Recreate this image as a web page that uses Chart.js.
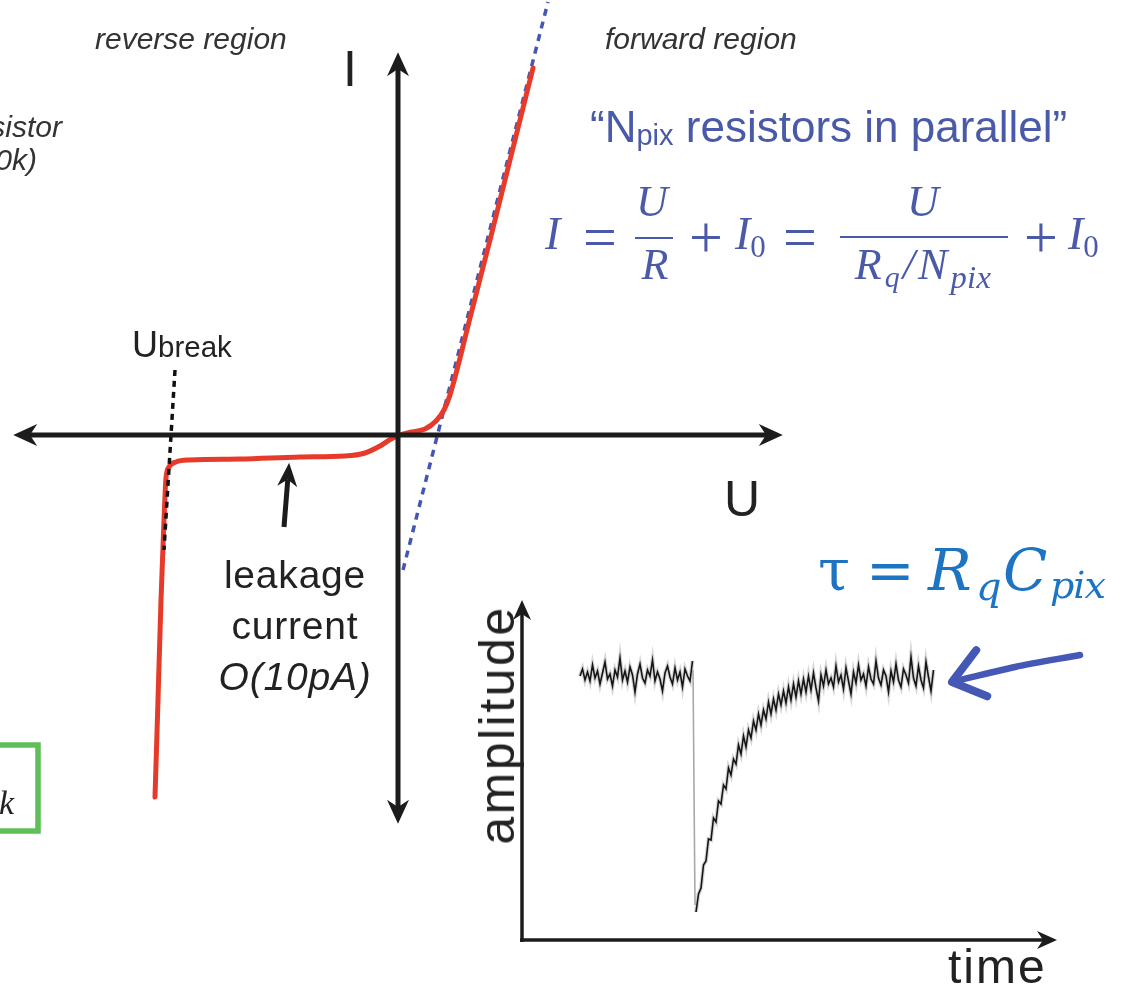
<!DOCTYPE html>
<html>
<head>
<meta charset="utf-8">
<script src="https://cdn.jsdelivr.net/npm/chart.js@4.4.1/dist/chart.umd.min.js"></script>
<style>
  body { margin: 0; background: #fff; }
  #wrap { position: relative; width: 1127px; height: 989px; overflow: hidden; background: #fff; }
  canvas { position: absolute; }
  .t { position: absolute; white-space: nowrap; line-height: 1; font-family: "Liberation Sans", Arial, sans-serif; color: #222; }
  .it { font-style: italic; }
  .grey { color: #333; }
  .blue { color: #4a5aa8; }
  .m { font-family: "Liberation Serif", serif; font-style: italic; font-size: 44px; }
  .up { font-style: normal; }
  .c { transform: translateX(-50%); }
  .op { font-style: normal; font-size: 60px; top: 207px; transform: translateX(-50%); }
  .bar { position: absolute; height: 2px; background: #4a5aa8; }
  .sub { font-size: 0.68em; position: relative; top: 0.28em; }
  .tau { font-family: "DejaVu Serif", serif; font-style: italic; color: #1d74c3; }
</style>
</head>
<body>
<div id="wrap">
  <canvas id="main" width="1127" height="989" style="left:0;top:0"></canvas>
  <canvas id="inset" width="640" height="399" style="left:470px;top:590px"></canvas>

  <div class="t it grey" style="left:95px;top:24px;font-size:30px">reverse region</div>
  <div class="t it grey" style="left:605px;top:24px;font-size:30px">forward region</div>
  <div class="t it grey" style="right:1065px;top:112px;font-size:30px">sistor</div>
  <div class="t it grey" style="right:1090px;top:145px;font-size:30px">0k)</div>
  <div class="t m" style="left:-1px;top:786px;font-size:34px;color:#222">k</div>

  <div class="t" style="left:343px;top:44px;font-size:50px">I</div>
  <div class="t" style="left:724px;top:474px;font-size:50px">U</div>
  <div class="t" style="left:132px;top:327px;font-size:36px">U<span style="font-size:29.5px">break</span></div>

  <div class="t c" style="left:295px;top:555px;font-size:39px;letter-spacing:0.8px">leakage</div>
  <div class="t c" style="left:295px;top:606px;font-size:39px;letter-spacing:0.8px">current</div>
  <div class="t it c" style="left:295px;top:657px;font-size:39px;letter-spacing:0.8px">O(10pA)</div>

  <div class="t blue" style="left:590px;top:105px;font-size:44px">&ldquo;N<span style="font-size:0.66em;position:relative;top:0.12em">pix</span> resistors in parallel&rdquo;</div>

  <!-- I = U/R + I0 = U/(Rq/Npix) + I0 -->
  <div class="t m blue" style="left:545px;top:211px;font-size:46px">I</div>
  <div class="t m blue op" style="left:600px">=</div>
  <div class="t m blue c" style="left:652px;top:180px">U</div>
  <div class="bar" style="left:635px;top:237px;width:38px"></div>
  <div class="t m blue c" style="left:655px;top:243px">R</div>
  <div class="t m blue op" style="left:706px">+</div>
  <div class="t m blue" style="left:735px;top:211px;font-size:46px">I<span class="up" style="font-size:31px;position:relative;top:8px">0</span></div>
  <div class="t m blue op" style="left:800px">=</div>
  <div class="t m blue c" style="left:923px;top:180px">U</div>
  <div class="bar" style="left:840px;top:236px;width:168px"></div>
  <div class="t m blue c" style="left:923px;top:243px;letter-spacing:0.07em">R<span class="sub">q</span>/N<span class="sub" style="font-size:0.74em;letter-spacing:0.01em">pix</span></div>
  <div class="t m blue op" style="left:1041px">+</div>
  <div class="t m blue" style="left:1068px;top:211px;font-size:46px">I<span class="up" style="font-size:31px;position:relative;top:8px">0</span></div>

  <!-- tau = Rq Cpix -->
  <div class="t tau" style="left:818px;top:541px;font-size:58px;font-style:normal">&tau;</div>
  <div class="t tau" style="left:866px;top:541px;font-size:58px;font-style:normal">=</div>
  <div class="t tau" style="left:928px;top:541px;font-size:58px">R</div>
  <div class="t tau" style="left:976px;top:566px;font-size:40px">q</div>
  <div class="t tau" style="left:1003px;top:541px;font-size:58px">C</div>
  <div class="t tau" style="left:1050px;top:566px;font-size:38px;letter-spacing:-1px">pix</div>

  <div class="t" style="left:497px;top:725px;font-size:50px;letter-spacing:2.5px;transform:translate(-50%,-50%) rotate(-90deg)">amplitude</div>
  <div class="t" style="left:948px;top:943px;font-size:48px;letter-spacing:2px">time</div>
</div>

<script>
// ---- I-U characteristic (units: U right, I up; origin where the axes cross) ----
const curveU = [-6.075, -6.0, -5.925, -5.85, -5.8, -5.725, -5.55, -5.2, -3.95, -2.45, -1.325, -0.825, -0.45, -0.175, 0.05, 0.35, 0.675, 0.95, 1.15, 1.3, 1.8, 2.3, 2.8, 3.375];
const curveI = [-9.05, -6.625, -4.125, -2.125, -1.075, -0.8, -0.675, -0.625, -0.6, -0.55, -0.525, -0.45, -0.275, -0.1, 0.0, 0.075, 0.15, 0.35, 0.625, 1.0, 2.925, 4.875, 6.875, 9.175];

// linear extrapolation "N_pix resistors in parallel"
const fitU = [0.125, 3.75];
const fitI = [-3.375, 10.825];

// breakdown voltage marker
const breakU = [-5.575, -5.85];
const breakI = [1.625, -2.875];

// leakage current pointer
const leakU = [-2.85, -2.755];
const leakI = [-2.3, -1.11];

// axes
const axisUx = [-9.2, 9.2], axisUy = [0, 0];
const axisIx = [0, 0], axisIy = [-9.3, 9.15];

// green box edge at the left
const boxU = [-10.3, -9.0, -9.0, -10.3];
const boxI = [-7.75, -7.75, -9.9, -9.9];

// ---- pulse inset (time, amplitude) ----
const preStart = 5.8, postStart = 17.4, step = 0.25;
const preAmp = [26.4, 27.1, 26.0, 26.8, 25.9, 27.5, 26.2, 26.9, 25.6, 26.7, 27.8, 26.1, 26.6, 25.4, 27.0, 26.3,
  28.2, 26.0, 26.9, 25.8, 27.3, 26.5, 24.8, 26.6, 27.6, 26.2, 25.7, 27.0, 26.4, 28.0, 25.9, 26.8, 26.1, 24.9,
  26.7, 27.4, 26.3, 25.6, 27.2, 26.0, 26.8, 25.3, 27.1, 26.4, 25.9, 27.9];
const postAmp = [2.8, 4.6, 5.2, 7.5, 7.9, 10.1, 10.0, 12.2, 11.8, 13.9, 13.6, 15.5, 15.1, 17.2, 16.5, 18.1,
  17.6, 19.5, 18.6, 20.4, 19.3, 21.0, 20.2, 21.9, 21.0, 22.6, 21.5, 23.0, 22.1, 23.8, 22.6, 24.1, 23.0, 24.6,
  23.5, 24.9, 23.7, 25.3, 24.0, 25.6, 24.3, 25.9, 24.6, 26.1, 24.8, 26.4, 25.0, 26.7, 25.2, 23.9, 26.5, 25.4,
  27.0, 25.6, 26.2, 25.3, 27.4, 25.8, 26.5, 25.1, 27.2, 25.9, 24.6, 26.8, 25.7, 27.5, 26.0, 26.6, 25.4, 27.3,
  26.1, 25.6, 27.9, 26.2, 25.5, 27.0, 26.4, 24.8, 26.9, 25.8, 27.6, 26.0, 25.3, 27.1, 26.5, 25.7, 28.3, 26.2,
  25.4, 27.4, 26.0, 25.2, 27.8, 26.3, 24.9, 27.0];
const dropT = [17.1, 17.3], dropA = [27.0, 3.5];
const insetAxisTx = [-0.2, 52.1], insetAxisTy = [0, 0];
const insetAxisAx = [0, 0], insetAxisAy = [-0.2, 32.6];
const pointerT = [55.8, 49.3, 43.0], pointerA = [28.5, 27.3, 25.8];

const pts = (xs, ys) => xs.map((x, i) => ({ x, y: ys[i] }));
const sampled = (start, ys) => ys.map((y, i) => ({ x: start + i * step, y }));

// arrow heads drawn at the ends of datasets that ask for them
function drawHead(ctx, from, to, a, color) {
  const ang = Math.atan2(to.y - from.y, to.x - from.x);
  ctx.save();
  ctx.translate(to.x, to.y);
  ctx.rotate(ang);
  ctx.fillStyle = color;
  ctx.strokeStyle = color;
  if (a.open) {
    ctx.lineWidth = a.lw;
    ctx.lineCap = 'round';
    ctx.lineJoin = 'round';
    ctx.beginPath();
    ctx.moveTo(-a.len * Math.cos(a.spread), -a.len * Math.sin(a.spread));
    ctx.lineTo(0, 0);
    ctx.lineTo(-a.len * Math.cos(a.spread), a.len * Math.sin(a.spread) * 1.15);
    ctx.stroke();
  } else {
    const tip = a.len * 0.7;
    ctx.beginPath();
    ctx.moveTo(tip, 0);
    ctx.lineTo(tip - a.len, a.w / 2);
    ctx.lineTo(0, 0);
    ctx.lineTo(tip - a.len, -a.w / 2);
    ctx.closePath();
    ctx.fill();
  }
  ctx.restore();
}

const arrowHeads = {
  id: 'arrowHeads',
  afterDatasetsDraw(chart) {
    chart.data.datasets.forEach((ds, i) => {
      if (!ds.arrow) return;
      const p = chart.getDatasetMeta(i).data;
      const n = p.length;
      if (ds.arrow.end) drawHead(chart.ctx, p[n - 2], p[n - 1], ds.arrow, ds.borderColor);
      if (ds.arrow.start) drawHead(chart.ctx, p[1], p[0], ds.arrow, ds.borderColor);
    });
  }
};

function baseOptions(xmin, xmax, ymin, ymax) {
  return {
    responsive: false,
    animation: false,
    events: [],
    layout: { padding: 0 },
    elements: { point: { radius: 0 } },
    plugins: { legend: { display: false }, tooltip: { enabled: false } },
    scales: {
      x: { type: 'linear', display: false, min: xmin, max: xmax },
      y: { type: 'linear', display: false, min: ymin, max: ymax },
    },
  };
}

const INK = '#1c1c1c';
const axisHead = { start: true, end: true, len: 24, w: 22 };

new Chart(document.getElementById('main'), {
  type: 'scatter',
  data: {
    datasets: [
      { data: pts(boxU, boxI), showLine: true, borderColor: '#5fbf57', borderWidth: 5.5, borderJoinStyle: 'miter' },
      { data: pts(axisUx, axisUy), showLine: true, borderColor: INK, borderWidth: 5, arrow: axisHead },
      { data: pts(axisIx, axisIy), showLine: true, borderColor: INK, borderWidth: 5, arrow: axisHead },
      { data: pts(breakU, breakI), showLine: true, borderColor: '#111', borderWidth: 3.5, borderDash: [6, 5] },
      { data: pts(curveU, curveI), showLine: true, borderColor: '#e63b2b', borderWidth: 5,
        cubicInterpolationMode: 'monotone', borderCapStyle: 'round', borderJoinStyle: 'round' },
      { data: pts(fitU, fitI), showLine: true, borderColor: '#4457b0', borderWidth: 3.5, borderDash: [7, 6] },
      { data: pts(leakU, leakI), showLine: true, borderColor: INK, borderWidth: 5, arrow: { end: true, len: 24, w: 20 } },
    ],
  },
  options: baseOptions(-9.95, 18.225, -13.85, 10.875),
  plugins: [arrowHeads],
});

new Chart(document.getElementById('inset'), {
  type: 'scatter',
  data: {
    datasets: [
      { data: pts(dropT, dropA), showLine: true, borderColor: '#a8a8a8', borderWidth: 1.6 },
      { data: sampled(preStart, preAmp), showLine: true, borderColor: 'rgba(0,0,0,0.16)', borderWidth: 4 },
      { data: sampled(postStart, postAmp), showLine: true, borderColor: 'rgba(0,0,0,0.16)', borderWidth: 4 },
      { data: sampled(preStart, preAmp), showLine: true, borderColor: '#1a1a1a', borderWidth: 1.6 },
      { data: sampled(postStart, postAmp), showLine: true, borderColor: '#1a1a1a', borderWidth: 1.6 },
      { data: pts(insetAxisTx, insetAxisTy), showLine: true, borderColor: INK, borderWidth: 3.5, arrow: { end: true, len: 20, w: 18 } },
      { data: pts(insetAxisAx, insetAxisAy), showLine: true, borderColor: INK, borderWidth: 3.5, arrow: { end: true, len: 20, w: 18 } },
      { data: pts(pointerT, pointerA), showLine: true, borderColor: '#4558b6', borderWidth: 6.5, tension: 0.3,
        borderCapStyle: 'round', arrow: { end: true, open: true, len: 38, spread: 0.62, lw: 8 } },
    ],
  },
  options: baseOptions(-5.2, 58.8, -4.9, 35),
  plugins: [arrowHeads],
});
</script>
</body>
</html>
